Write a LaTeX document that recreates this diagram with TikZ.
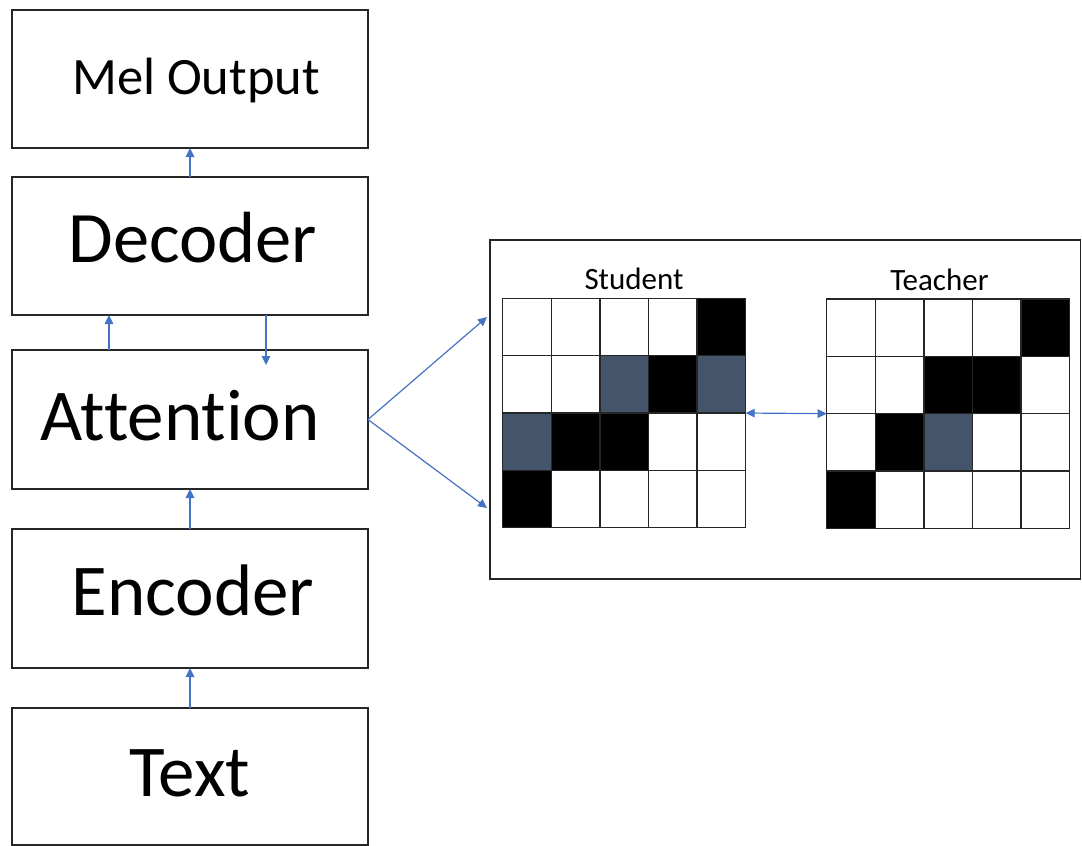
\documentclass[tikz,border=0pt]{standalone}
\usepackage{fontspec}
\setmainfont{Carlito}[Ligatures=NoCommon]
\usetikzlibrary{arrows.meta,calc}
\definecolor{arrowblue}{HTML}{4472C4}
\definecolor{slate}{HTML}{44546A}
\definecolor{edge}{HTML}{262626}

\newcommand{\fsz}[1]{\fontsize{#1}{#1}\selectfont}

\begin{document}
\begin{tikzpicture}[x=1pt,y=-1pt,
  stage/.style={draw=edge, line width=1.3pt, minimum width=356pt, inner sep=0pt, outer sep=0pt, anchor=north west},
  lbl/.style={inner sep=0pt, anchor=base},
  tipb/.tip={Triangle[length=9pt,width=8.5pt]},
  arr/.style={draw=arrowblue, line width=1.2pt, -tipb},
  biarr/.style={draw=arrowblue, line width=1.2pt, tipb-tipb},
  mapframe/.style={draw=edge, line width=1.2pt, minimum width=590.5pt, minimum height=339pt, inner sep=0pt, outer sep=0pt, anchor=north west},
  gridbox/.style={draw=edge, line width=1.3pt, minimum width=243pt, minimum height=229.4pt, inner sep=0pt, outer sep=0pt, anchor=north west},
  gridline/.style={draw=edge, line width=1.3pt}]

\useasboundingbox (0,0) rectangle (1082,846);

% pipeline stages
\node[stage, minimum height=138pt] (mel) at (12,10) {};
\node[stage, minimum height=138pt] (dec) at (12,177) {};
\node[stage, minimum height=139pt] (att) at (12,350) {};
\node[stage, minimum height=139pt] (enc) at (12,529) {};
\node[stage, minimum height=137pt] (txt) at (12,708) {};

\node[lbl, font=\fsz{52.5}] (melt) at (196,94.3) {Mel Output};
\node[lbl, font=\fsz{72.5}] (dect) at (193,262) {Decoder};
\node[lbl, font=\fsz{73}] (attt) at (180,440) {Attention};
\node[lbl, font=\fsz{73}] (enct) at (193,615) {Encoder};
\node[lbl, font=\fsz{73}] (txtt) at (190,796.7) {Text};

% vertical flow
\draw[arr] (txt.north) -- (enc.south);
\draw[arr] (enc.north) -- (att.south);
\draw[arr] ([xshift=97pt]att.north west) -- ([xshift=97pt]dec.south west);
\draw[arr] ([xshift=254pt]dec.south west) -- ([xshift=254pt,yshift=-15pt]att.north west);
\draw[arr] (dec.north) -- (mel.south);

% attention maps panel
\node[mapframe] (panel) at (490,240) {};
\coordinate (inhi) at (487,317);
\coordinate (inlo) at (487,508);
\draw[arr] (att.east) -- (inhi);
\draw[arr] (att.east) -- (inlo);

% student map
\begin{scope}[shift={(502.7,298.3)}]
  \foreach \c/\r in {4/0,3/1,1/2,2/2,0/3}
    \fill[black] (\c*48.6,\r*57.35) rectangle ++(48.6,57.35);
  \foreach \c/\r in {2/1,4/1,0/2}
    \fill[slate] (\c*48.6,\r*57.35) rectangle ++(48.6,57.35);
  \foreach \i in {1,...,4} \draw[gridline] (\i*48.6,0) -- (\i*48.6,229.4);
  \foreach \j in {1,2,3} \draw[gridline] (0,\j*57.35) -- (243,\j*57.35);
\end{scope}
\node[gridbox] (sg) at (502.7,298.3) {};
\node[lbl, font=\fsz{31}] (sgt) at (634,289) {Student};

% teacher map
\begin{scope}[shift={(826.7,299)}]
  \foreach \c/\r in {4/0,2/1,3/1,1/2,0/3}
    \fill[black] (\c*48.6,\r*57.35) rectangle ++(48.6,57.35);
  \foreach \c/\r in {2/2}
    \fill[slate] (\c*48.6,\r*57.35) rectangle ++(48.6,57.35);
  \foreach \i in {1,...,4} \draw[gridline] (\i*48.6,0) -- (\i*48.6,229.4);
  \foreach \j in {1,2,3} \draw[gridline] (0,\j*57.35) -- (243,\j*57.35);
\end{scope}
\node[gridbox] (tg) at (826.7,299) {};
\node[lbl, font=\fsz{31}] (tgt) at (939.4,290) {Teacher};

\draw[biarr] (sg.east) -- (tg.west);

\end{tikzpicture}
\end{document}
